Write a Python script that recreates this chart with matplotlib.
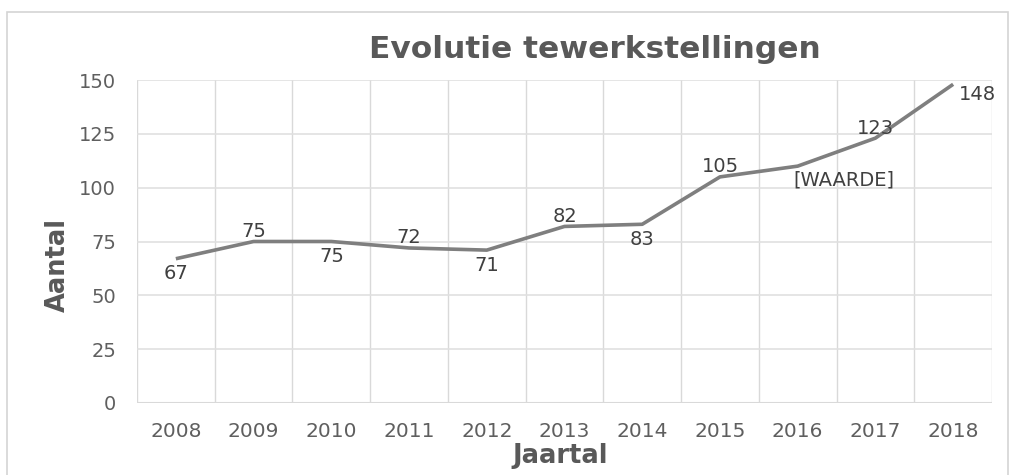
import matplotlib
matplotlib.use("Agg")
import matplotlib.pyplot as plt
from matplotlib.patches import Rectangle
from matplotlib.ticker import MultipleLocator, FixedLocator

years = ["2008", "2009", "2010", "2011", "2012", "2013", "2014", "2015", "2016", "2017", "2018"]
aantal = [67, 75, 75, 72, 71, 82, 83, 105, 110, 123, 148]
labels = ["67", "75", "75", "72", "71", "82", "83", "105", "[WAARDE]", "123", "148"]
label_pos = ["below", "above", "below", "above", "below", "above", "below",
             "above", "below_right", "above", "right"]

title = "Evolutie tewerkstellingen"
ylabel = "Aantal"
xlabel = "Jaartal"

plt.rcParams["font.family"] = ["DejaVu Sans"]

fig = plt.figure(figsize=(10.12, 4.75), dpi=100)
fig.patch.set_facecolor("white")

# chart frame
fig.add_artist(Rectangle((7 / 1012, -0.05), 1001 / 1012, 1.05 - 12 / 475,
                         transform=fig.transFigure, fill=False,
                         edgecolor="#d4d4d4", linewidth=1.2))

ax = fig.add_axes([137 / 1012, 1 - 403 / 475, 855 / 1012, 323 / 475])
x = list(range(len(years)))
ax.plot(x, aantal, color="#7f7f7f", linewidth=2.6, solid_capstyle="butt",
        solid_joinstyle="round", zorder=3)

ax.set_xlim(-0.5, len(years) - 0.5)
ax.set_ylim(0, 150)
ax.yaxis.set_major_locator(MultipleLocator(25))
ax.set_xticks(x)
ax.set_xticklabels(years)
ax.xaxis.set_minor_locator(FixedLocator([i + 0.5 for i in range(-1, len(years))]))

ax.grid(axis="y", which="major", color="#e0e0e0", linewidth=1.2)
ax.grid(axis="x", which="minor", color="#d9d9d9", linewidth=1.0)
for s in ax.spines.values():
    s.set_visible(False)
ax.axhline(0, color="#d9d9d9", linewidth=1.5, zorder=2)

ax.tick_params(axis="both", which="both", length=0)
ax.tick_params(axis="y", labelsize=14, labelcolor="#5f5f5f", pad=15)
ax.tick_params(axis="x", labelsize=14.5, labelcolor="#5f5f5f", pad=14)

offsets = {
    "above": (0, 10, "center", "center"),
    "below": (0, -15, "center", "center"),
    "below_right": (-4, -14, "left", "center"),
    "right": (6, -10, "left", "center"),
}
for xi, yi, txt, pos in zip(x, aantal, labels, label_pos):
    dx, dy, ha, va = offsets[pos]
    ax.annotate(txt, (xi, yi), xytext=(dx, dy), textcoords="offset pixels",
                ha=ha, va=va, fontsize=14, color="#404040", zorder=4)

fig.text(595 / 1012, 1 - 50 / 475, title, ha="center", va="center",
         fontsize=22.5, fontweight="bold", color="#595959")
fig.text(58 / 1012, 1 - 265 / 475, ylabel, ha="center", va="center",
         rotation=90, fontsize=18.5, fontweight="bold", color="#595959")
fig.text(560 / 1012, 1 - 456 / 475, xlabel, ha="center", va="center",
         fontsize=18.5, fontweight="bold", color="#595959")

fig.savefig("out.png", dpi=100)
